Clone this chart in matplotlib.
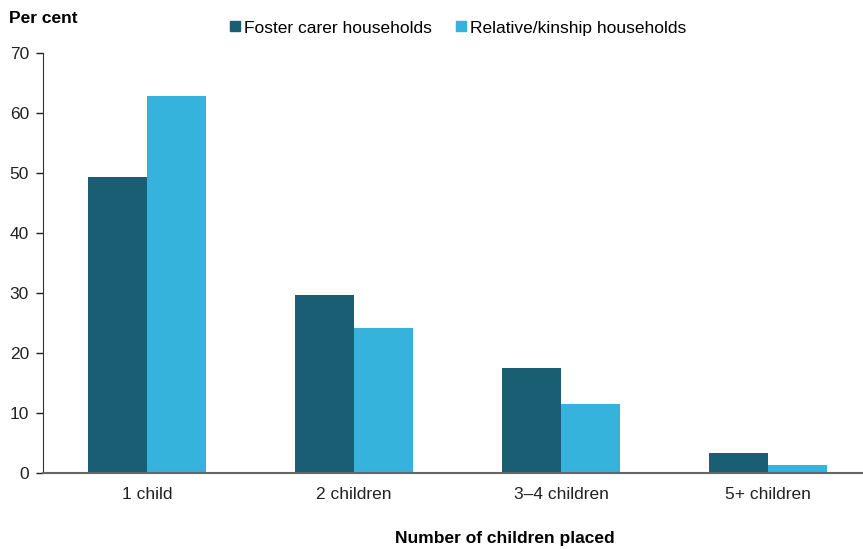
import matplotlib
matplotlib.use('Agg')
import matplotlib.pyplot as plt
import numpy as np
from matplotlib.lines import Line2D

categories = ['1 child', '2 children', '3–4 children', '5+ children']
foster = [49.3, 29.7, 17.5, 3.3]
relative = [62.8, 24.1, 11.5, 1.3]
series_names = ['Foster carer households', 'Relative/kinship households']
colors = ['#1a5e74', '#35b3dc']

plt.rcParams['font.family'] = ['Liberation Sans', 'DejaVu Sans']
fs = 12.5

fig = plt.figure(figsize=(8.63, 5.49), dpi=100)
ax = fig.add_axes([0.0498, 0.1384, 0.9502, 0.7651])

x = np.arange(len(categories))
w = 0.285
ax.bar(x - w / 2, foster, w, color=colors[0])
ax.bar(x + w / 2, relative, w, color=colors[1])

ax.set_xlim(-0.502, 3.459)
ax.set_ylim(0, 70)
ax.set_yticks(range(0, 71, 10))
ax.set_xticks(x)
ax.set_xticklabels(categories, fontsize=fs, color='#222222')
ax.tick_params(axis='y', labelsize=fs, length=5, width=1, colors='#222222', pad=5)
ax.tick_params(axis='x', length=0, pad=10)

for s in ['top', 'right']:
    ax.spines[s].set_visible(False)
ax.spines['left'].set_color('#333333')
ax.spines['bottom'].set_color('#666666')
ax.spines['bottom'].set_linewidth(1.5)

# legend with small square markers
handles = [Line2D([], [], marker='s', linestyle='', markersize=6.5, color=c) for c in colors]
fig.legend(handles, series_names, loc='center', bbox_to_anchor=(0.530, 0.949), ncol=2,
           frameon=False, fontsize=fs, handletextpad=0.1, columnspacing=1.3,
           handlelength=0.8)

fig.text(0.011, 0.967, 'Per cent', fontsize=fs, fontweight='bold', va='center', ha='left')
fig.text(0.585, 0.02, 'Number of children placed', fontsize=fs, fontweight='bold',
         va='center', ha='center')

fig.savefig('out.png', dpi=100)
